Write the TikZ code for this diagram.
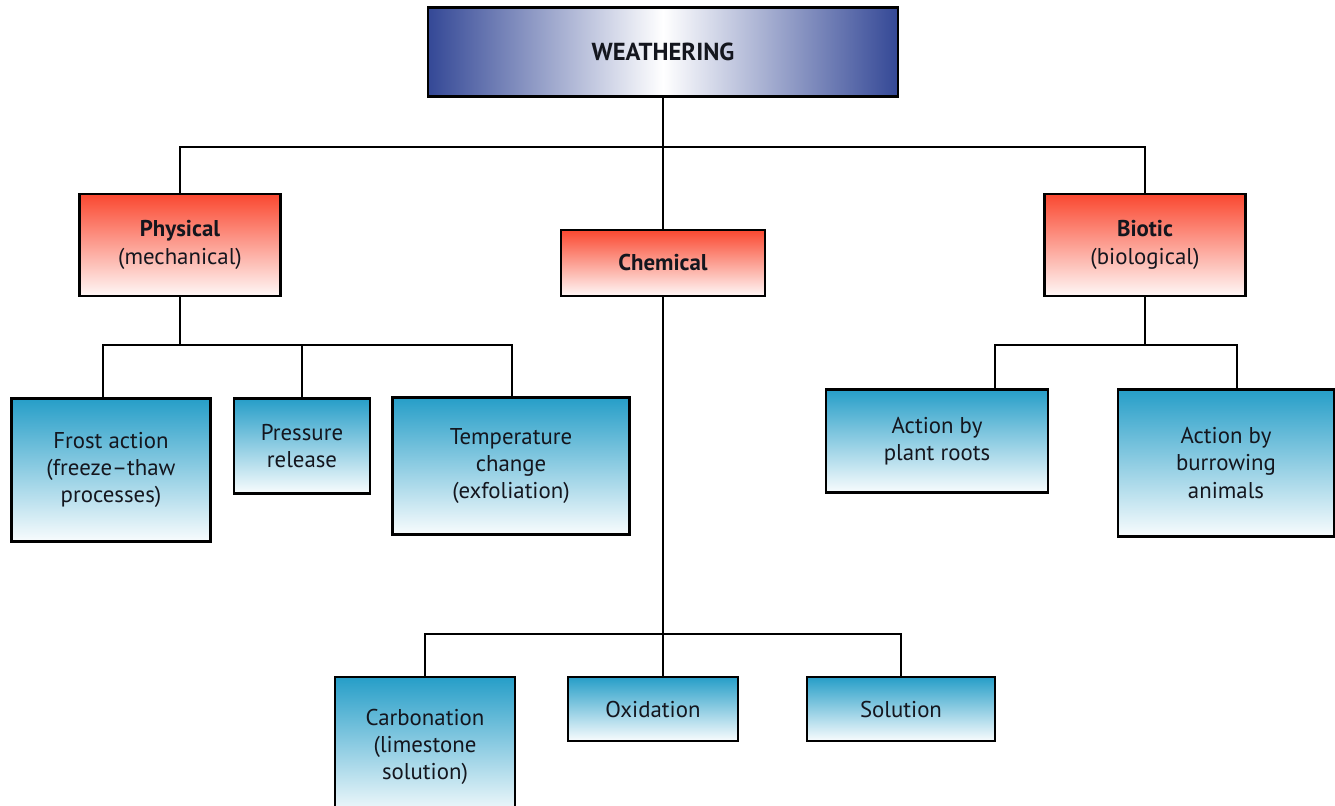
\documentclass[tikz,border=0pt]{standalone}
\usepackage{fontspec}
\setmainfont{PT Sans}
\usetikzlibrary{calc}

\definecolor{wblue}{RGB}{52,72,150}
\definecolor{wred}{RGB}{250,72,48}
\definecolor{wcyan}{RGB}{38,158,200}
\definecolor{wtext}{RGB}{20,22,30}

\begin{document}
\begin{tikzpicture}[x=0.02cm, y=-0.02cm,
    root/.style={draw, line width=1.6pt, align=center, text=wtext, font=\bfseries\fontsize{14}{16}\selectfont, left color=wblue, right color=wblue, middle color=white},
    group/.style={draw, line width=1.6pt, align=center, text=wtext, font=\fontsize{13}{16}\selectfont, top color=wred, bottom color=wred!4},
    leaf/.style={draw, line width=1.6pt, align=center, text=wtext, font=\fontsize{13}{15.5}\selectfont, top color=wcyan, bottom color=wcyan!3},
    link/.style={line width=1.1pt}
  ]
    \useasboundingbox (0,0) rectangle (1335,805);

    \node[root, minimum width=9.4cm, minimum height=1.78cm] (weath) at (663,52) {WEATHERING};

    \node[group, minimum width=4.02cm, minimum height=2.04cm] (phys) at (180,245) {\textbf{Physical}\\(mechanical)};
    \node[group, minimum width=4.08cm, minimum height=1.32cm] (chem) at (663,263) {\textbf{Chemical}};
    \node[group, minimum width=4.02cm, minimum height=2.04cm] (bio)  at (1145,245) {\textbf{Biotic}\\(biological)};

    \node[leaf, minimum width=3.98cm, minimum height=2.86cm] (frost) at (111,470) {Frost action\\(freeze--thaw\\processes)};
    \node[leaf, minimum width=2.72cm, minimum height=1.9cm]  (press) at (302,446) {Pressure\\release};
    \node[leaf, minimum width=4.74cm, minimum height=2.74cm] (temp)  at (511,466) {Temperature\\change\\(exfoliation)};

    \node[leaf, minimum width=4.44cm, minimum height=2.06cm] (roots)  at (937,441) {Action by\\plant roots};
    \node[leaf, minimum width=4.32cm, minimum height=2.94cm] (burrow) at (1226,463) {Action by\\burrowing\\animals};

    \node[leaf, minimum width=3.6cm, minimum height=2.8cm]   (carb) at (425,747) {Carbonation\\(limestone\\solution)};
    \node[leaf, minimum width=3.4cm, minimum height=1.28cm]  (oxid) at (653,709) {Oxidation};
    \node[leaf, minimum width=3.76cm, minimum height=1.28cm] (sol)  at (901,709) {Solution};

    % bus levels
    \coordinate (b1) at (663,147);
    \coordinate (b2) at (180,345);
    \coordinate (b3) at (663,634);
    \coordinate (b4) at (1145,345);

    \draw[link] (weath) -- (b1);
    \draw[link] (phys.north) |- (b1);
    \draw[link] (bio.north) |- (b1);
    \draw[link] (chem.north) -- (b1);

    \draw[link] (phys) -- (b2);
    \draw[link] ($(frost.north)+(-8,0)$) |- (b2);
    \draw[link] (press.north) |- (b2);
    \draw[link] ($(temp.north)+(1,0)$) |- (b2);

    \draw[link] (chem) -- (b3);
    \draw[link] (carb.north) |- (b3);
    \draw[link] ($(oxid.north)+(10,0)$) -- (b3);
    \draw[link] (sol.north) |- (b3);

    \draw[link] (bio) -- (b4);
    \draw[link] ($(roots.north)+(58,0)$) |- (b4);
    \draw[link] ($(burrow.north)+(11,0)$) |- (b4);
  \end{tikzpicture}
\end{document}
